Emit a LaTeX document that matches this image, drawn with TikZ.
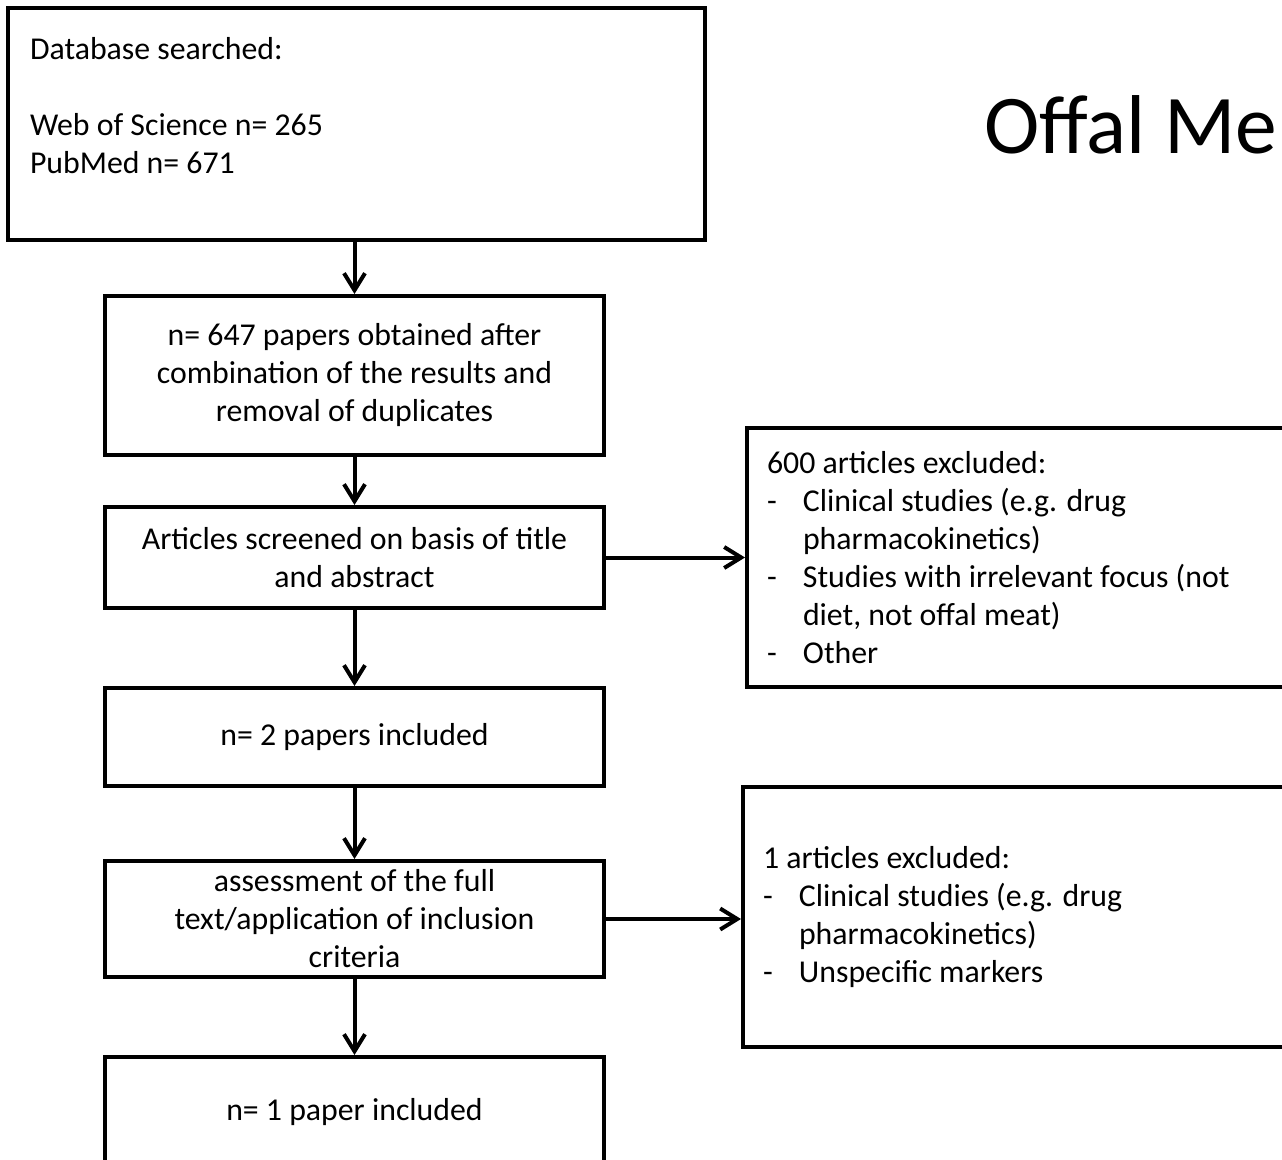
\documentclass[tikz,border=0pt]{standalone}
\usepackage{fontspec}
\setmainfont{Carlito}
\usetikzlibrary{arrows.meta}
\newcommand{\itm}[1]{\makebox[36pt][l]{-}#1}
\newcommand{\cnt}[1]{\hspace*{36pt}#1}
\begin{document}
\begin{tikzpicture}[x=1pt,y=-1pt,
  box/.style={draw=black, line width=4pt, rectangle, inner sep=0pt,
    font=\fontsize{31.8}{38}\selectfont, align=center},
  arr/.style={line width=4pt, -{Straight Barb[length=17pt,width=21pt,line width=4pt]}}]
\useasboundingbox (0,0) rectangle (1282,1159);
\clip (0,0) rectangle (1282,1159);
\fill[white] (0,0) rectangle (1282,1159);
\node[box, minimum width=697pt, minimum height=232pt, text width=653pt, align=flush left] (db) at (356.5,124)
  {Database searched:\\ \mbox{}\\ Web of Science n= 265\\ PubMed n= 671\\ \mbox{}};
\node[box, minimum width=499pt, minimum height=159pt] (dedup) at (354.5,375.5)
  {n= 647 papers obtained after\\ combination of the results and\\ removal of duplicates};
\node[box, minimum width=499pt, minimum height=101pt] (screen) at (354.5,557.5)
  {Articles screened on basis of title\\ and abstract};
\node[box, minimum width=499pt, minimum height=98pt] (incl2) at (354.5,737)
  {n= 2 papers included};
\node[box, minimum width=499pt, minimum height=116pt] (assess) at (354.5,919)
  {assessment of the full\\ text/application of inclusion\\ criteria};
\node[box, minimum width=499pt, minimum height=110pt] (incl1) at (354.5,1112)
  {n= 1 paper included};
\node[box, minimum width=600pt, minimum height=259pt, text width=560pt, align=flush left] (exclA) at (1047,557.5)
  {600 articles excluded:\\ \itm{Clinical studies (e.g. drug}\\ \cnt{pharmacokinetics)}\\
   \itm{Studies with irrelevant focus (not}\\ \cnt{diet, not offal meat)}\\ \itm{Other}};
\node[box, minimum width=600pt, minimum height=260pt, text width=560pt, align=flush left] (exclB) at (1043,917)
  {1 articles excluded:\\ \itm{Clinical studies (e.g. drug}\\ \cnt{pharmacokinetics)}\\
   \itm{Unspecific markers}};
\node[font=\fontsize{83.5}{100}\selectfont, anchor=base west, inner sep=0pt] (title) at (984,153) {Offal Me};
\draw[arr] (db.south -| dedup.north) -- (dedup.north);
\draw[arr] (dedup) -- (screen);
\draw[arr] (screen) -- (incl2);
\draw[arr] (incl2) -- (assess);
\draw[arr] (assess) -- (incl1);
\draw[arr] (screen.east) -- (exclA.west);
\draw[arr] (assess.east) -- (assess.east -| exclB.west);
\end{tikzpicture}
\end{document}
